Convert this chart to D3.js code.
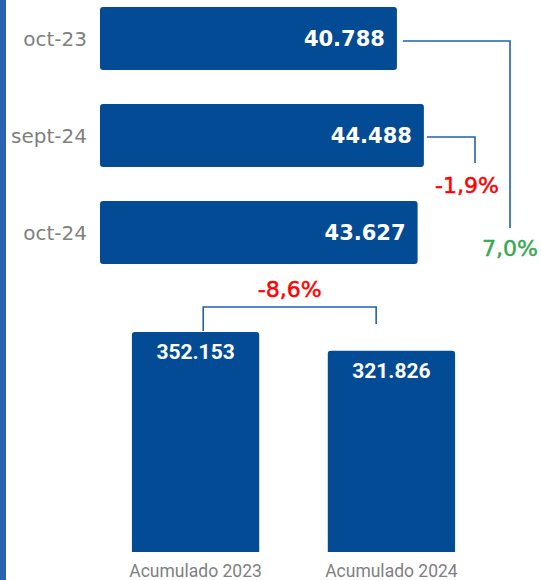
<!DOCTYPE html>
<html>
<head>
<meta charset="utf-8">
<script src="https://cdn.jsdelivr.net/npm/d3@7/dist/d3.min.js"></script>
<style>
  html, body { margin: 0; padding: 0; background: #fff; }
  svg { display: block; }
</style>
</head>
<body>
<svg id="chart" width="541" height="580"></svg>
<script>
// ---- data ----
const monthCategories = ["oct-23", "sept-24", "oct-24"];
const monthValues = [40788, 44488, 43627];
const monthLabels = ["40.788", "44.488", "43.627"];

const accCategories = ["Acumulado 2023", "Acumulado 2024"];
const accValues = [352153, 321826];
const accLabels = ["352.153", "321.826"];

const changeLabels = ["7,0%", "-1,9%", "-8,6%"];

// ---- styles ----
const BAR = "#034b95";
const LINE = "#2360ae";
const GRAY = "#808080";
const RED = "#ff0000";
const GREEN = "#3aa853";

const svg = d3.select("#chart");

// left accent stripe
svg.append("rect").attr("x", 0).attr("y", 0).attr("width", 6).attr("height", 580).attr("fill", "#2a63b1");

// ---- horizontal bars ----
const x = d3.scaleLinear().domain([0, 50000]).range([100, 464]);
const y = d3.scaleBand().domain(monthCategories).range([-10, 281]).paddingInner(0.35).paddingOuter(0.175);

const gH = svg.append("g");
gH.selectAll("rect.hbar").data(monthCategories).join("rect")
  .attr("class", "hbar")
  .attr("x", x(0))
  .attr("y", d => y(d))
  .attr("width", (d, i) => x(monthValues[i]) - x(0))
  .attr("height", y.bandwidth())
  .attr("rx", 3)
  .attr("fill", BAR);

gH.selectAll("text.cat").data(monthCategories).join("text")
  .attr("class", "cat")
  .attr("x", x(0) - 13)
  .attr("y", d => y(d) + y.bandwidth() / 2 + 7.5)
  .attr("text-anchor", "end")
  .attr("font-family", "DejaVu Sans")
  .attr("font-size", 20)
  .attr("fill", GRAY)
  .text(d => d);

gH.selectAll("text.val").data(monthCategories).join("text")
  .attr("class", "val")
  .attr("x", (d, i) => x(monthValues[i]) - 12)
  .attr("y", d => y(d) + y.bandwidth() / 2 + 7.5)
  .attr("text-anchor", "end")
  .attr("font-family", "DejaVu Sans")
  .attr("font-weight", "bold")
  .attr("font-size", 21)
  .attr("fill", "#fff")
  .text((d, i) => monthLabels[i]);

// connectors for horizontal bars
const cy0 = y(monthCategories[0]) + y.bandwidth() / 2 + 2.5;
const cx0 = x(monthValues[0]) + 6;
const cy1 = y(monthCategories[1]) + y.bandwidth() / 2 + 1.5;
const cx1 = x(monthValues[1]) + 3;
const c0x = 510, c1x = 475;
svg.append("path")
  .attr("d", `M${cx0},${cy0}H${c0x}V${y(monthCategories[2]) + y.bandwidth() - 36}`)
  .attr("fill", "none").attr("stroke", LINE).attr("stroke-width", 1.6);
svg.append("path")
  .attr("d", `M${cx1},${cy1}H${c1x}V${cy1 + 26}`)
  .attr("fill", "none").attr("stroke", LINE).attr("stroke-width", 1.6);

const pctFont = { family: "DejaVu Sans", size: 22 };
svg.append("text")
  .attr("x", c0x).attr("y", 256)
  .attr("text-anchor", "middle")
  .attr("font-family", pctFont.family).attr("font-size", pctFont.size)
  .attr("stroke-width", 0.5)
  .attr("fill", GREEN).attr("stroke", GREEN)
  .text(changeLabels[0]);
svg.append("text")
  .attr("x", 467).attr("y", 193)
  .attr("text-anchor", "middle")
  .attr("font-family", pctFont.family).attr("font-size", pctFont.size)
  .attr("stroke-width", 0.5)
  .attr("fill", RED).attr("stroke", RED)
  .text(changeLabels[1]);

// ---- vertical bars ----
const xb = d3.scaleBand().domain(accCategories).range([34, 553]).paddingInner(0.35).paddingOuter(0.5);
const yv = d3.scaleLinear().domain([0, 400000]).range([552, 302]);

const gV = svg.append("g");
gV.selectAll("path.vbar").data(accCategories).join("path")
  .attr("class", "vbar")
  .attr("d", (d, i) => {
    const x0 = xb(d), w = xb.bandwidth(), t = yv(accValues[i]), b = yv(0), r = 3;
    return `M${x0},${b}V${t + r}Q${x0},${t} ${x0 + r},${t}H${x0 + w - r}Q${x0 + w},${t} ${x0 + w},${t + r}V${b}Z`;
  })
  .attr("fill", BAR);

gV.selectAll("text.val").data(accCategories).join("text")
  .attr("class", "val")
  .attr("x", d => xb(d) + xb.bandwidth() / 2)
  .attr("y", (d, i) => yv(accValues[i]) + 27)
  .attr("text-anchor", "middle")
  .attr("font-family", "Roboto")
  .attr("font-weight", "bold")
  .attr("font-size", 21)
  .attr("fill", "#fff")
  .text((d, i) => accLabels[i]);

gV.selectAll("text.cat").data(accCategories).join("text")
  .attr("class", "cat")
  .attr("x", d => xb(d) + xb.bandwidth() / 2)
  .attr("y", 577)
  .attr("text-anchor", "middle")
  .attr("font-family", "Roboto")
  .attr("font-size", 17.5)
  .attr("fill", GRAY)
  .text(d => d);

// bracket for accumulated
const bL = xb(accCategories[0]) + xb.bandwidth() * 0.56;
const bR = xb(accCategories[1]) + xb.bandwidth() * 0.38;
const bTop = 307;
svg.append("path")
  .attr("d", `M${bL},${yv(accValues[0]) - 1}V${bTop}H${bR}V${bTop + 17}`)
  .attr("fill", "none").attr("stroke", LINE).attr("stroke-width", 1.6);
svg.append("text")
  .attr("x", (bL + bR) / 2).attr("y", 297)
  .attr("text-anchor", "middle")
  .attr("font-family", pctFont.family).attr("font-size", pctFont.size)
  .attr("stroke-width", 0.5)
  .attr("fill", RED).attr("stroke", RED)
  .text(changeLabels[2]);
</script>
</body>
</html>
